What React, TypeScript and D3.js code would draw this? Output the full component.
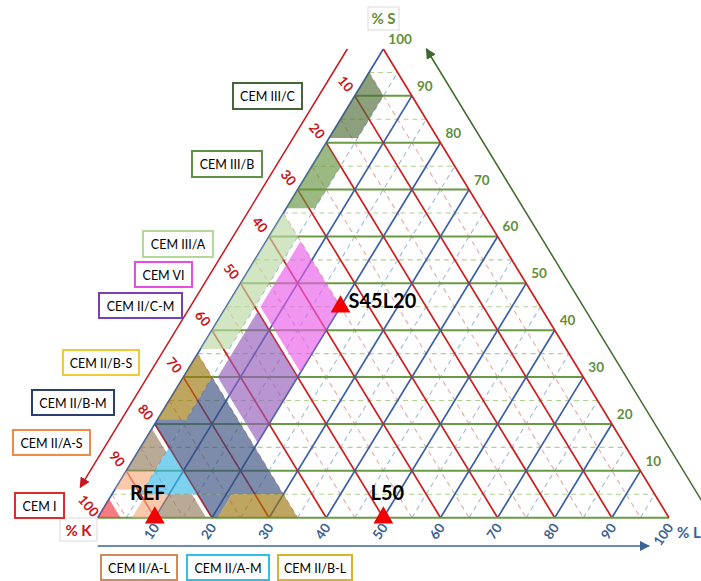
import React from 'react';
import * as d3 from 'd3';

// ternary: K = clinker (bottom-left), S = slag (top), L = limestone (bottom-right)
const majorTicks = [10, 20, 30, 40, 50, 60, 70, 80, 90];
const minorTicks = [5, 15, 25, 35, 45, 55, 65, 75, 85, 95];
const tickLabels = [10, 20, 30, 40, 50, 60, 70, 80, 90, 100];

// shaded zones, ranges in %
const zoneK = [[96, 100], [80.5, 94], [80.5, 94], [81, 94], [81, 94], [80, 94], [65, 80], [65, 80], [65, 80], [65, 80], [65, 80], [50, 64], [35, 49], [35, 64], [20, 34], [5, 19]];
const zoneS = [[0, 5], [6, 10], [0, 5], [10, 20], [0, 5], [5, 20], [5, 35], [0, 21], [0, 5], [21, 35], [0, 5], [0, 50], [0, 65], [36, 65], [66, 80], [81, 95]];
const zoneL = [[0, 5], [0, 5], [6, 10], [0, 5], [10, 20], [5, 20], [5, 35], [0, 5], [5, 21], [0, 5], [21, 35], [6, 20], [6, 20], [0, 5], [0, 5], [0, 5]];
const zoneFill = ['#f0373f', '#f7aa7c', '#f7aa7c', '#937c5d', '#937c5d', '#37bae8', '#374e7c', '#374e7c', '#374e7c', '#9b750a', '#9b750a', '#935dba', '#e85de8', '#bad9a3', '#65933f', '#4e6d37'];

const legendNames = ['CEM III/C', 'CEM III/B', 'CEM III/A', 'CEM VI', 'CEM II/C-M', 'CEM II/B-S', 'CEM II/B-M', 'CEM II/A-S', 'CEM I', 'CEM II/A-L', 'CEM II/A-M', 'CEM II/B-L'];
const legendColors = ['#46643a', '#5f9245', '#b4d89a', '#e64ce6', '#7a3fb0', '#f2c835', '#2a3e72', '#f08a46', '#dc2c2c', '#cf8c5a', '#2fc0ea', '#dbb22a'];
// box layout [x0, y0, x1, y1]
const legendBoxes = [[233, 83, 302, 109], [192, 151, 262, 177], [143, 231, 213, 257], [135, 262, 192, 287], [99, 293, 182, 318], [63, 350, 139, 375], [32, 390, 114, 415], [13, 430, 90, 455], [15, 493, 64, 518], [101, 555, 177, 580], [187, 555, 269, 580], [278, 555, 352, 580]];

const markerNames = ['REF', 'L50', 'S45L20'];
const markerS = [0, 0, 45];
const markerL = [10, 50, 20];

const GREEN = '#6a9a42';
const RED = '#d01c1c';
const BLUE = '#3a5ea6';
const FONT = 'Lato, "Open Sans", sans-serif';

const x = d3.scaleLinear().domain([0, 100]).range([97.7, 669]);
const y = d3.scaleLinear().domain([0, 100]).range([517.7, 49]);
const pt = (s: number, l: number): [number, number] => [x(l + s / 2), y(s)];

type P = [number, number];
// keep a*s + b*l <= c
function clip(poly: P[], a: number, b: number, c: number): P[] {
  const out: P[] = [];
  for (let i = 0; i < poly.length; i++) {
    const p = poly[i];
    const q = poly[(i + 1) % poly.length];
    const fp = a * p[0] + b * p[1] - c;
    const fq = a * q[0] + b * q[1] - c;
    if (fp <= 0) out.push(p);
    if ((fp < 0 && fq > 0) || (fp > 0 && fq < 0)) {
      const t = fp / (fp - fq);
      out.push([p[0] + t * (q[0] - p[0]), p[1] + t * (q[1] - p[1])]);
    }
  }
  return out;
}

function zonePath(k: number[], s: number[], l: number[]) {
  let poly: P[] = [[0, 0], [100, 0], [0, 100]];
  poly = clip(poly, -1, 0, -s[0]);
  poly = clip(poly, 1, 0, s[1]);
  poly = clip(poly, 0, -1, -l[0]);
  poly = clip(poly, 0, 1, l[1]);
  poly = clip(poly, 1, 1, 100 - k[0]);
  poly = clip(poly, -1, -1, k[1] - 100);
  if (poly.length < 3) return '';
  return d3.line()(poly.map((p) => pt(p[0], p[1]))) + 'Z';
}

const seg = (a: P, b: P) => `M${a[0]},${a[1]}L${b[0]},${b[1]}`;

export default function App() {
  const sLine = (v: number) => seg(pt(v, 0), pt(v, 100 - v));
  const kLine = (v: number) => seg(pt(100 - v, 0), pt(0, 100 - v));
  const lLine = (v: number) => seg(pt(0, v), pt(100 - v, v));
  const tri = d3.symbol().type(d3.symbolTriangle).size(170)();

  // outer axis lines, parallel to the edges
  const kAxisA = pt(100, 0), kAxisB = pt(6.5, 0);
  const sAxisA = pt(2, 100 - 2), sAxisB = pt(100, 0);

  return (
    <svg width={701} height={581} style={{ position: 'absolute', left: 0, top: 0, background: '#fff' }} fontFamily={FONT}>
      <defs>
        <marker id="arR" viewBox="0 0 10 10" refX="9" refY="5" markerWidth="7" markerHeight="7" orient="auto">
          <path d="M0,0L10,5L0,10Z" fill="#c8161d" />
        </marker>
        <marker id="arG" viewBox="0 0 10 10" refX="9" refY="5" markerWidth="7" markerHeight="7" orient="auto">
          <path d="M0,0L10,5L0,10Z" fill="#3f6a2e" />
        </marker>
        <marker id="arB" viewBox="0 0 10 10" refX="9" refY="5" markerWidth="7" markerHeight="7" orient="auto">
          <path d="M0,0L10,5L0,10Z" fill="#3b6496" />
        </marker>
      </defs>

      {/* minor dashed grid */}
      <g fill="none" strokeWidth={1.1} strokeDasharray="5,4">
        {minorTicks.map((v) => <path key={'ms' + v} d={sLine(v)} stroke="#aed18f" />)}
        {minorTicks.map((v) => <path key={'mk' + v} d={kLine(v)} stroke="#e6a9a9" />)}
        {minorTicks.map((v) => <path key={'ml' + v} d={lLine(v)} stroke="#a2b8de" />)}
      </g>
      {/* major grid */}
      <g fill="none">
        {majorTicks.map((v) => <path key={'s' + v} d={sLine(v)} stroke={GREEN} strokeWidth={2} />)}
        {majorTicks.map((v) => <path key={'k' + v} d={kLine(v)} stroke={RED} strokeWidth={1.7} />)}
        {majorTicks.map((v) => <path key={'l' + v} d={lLine(v)} stroke={BLUE} strokeWidth={1.7} />)}
        <path d={sLine(0)} stroke={GREEN} strokeWidth={2} />
        <path d={lLine(0)} stroke={BLUE} strokeWidth={1.7} />
        <path d={kLine(0)} stroke={RED} strokeWidth={1.7} />
      </g>

      {/* cement zones */}
      <g>
        {zoneK.map((k, i) => (
          <path key={'z' + i} d={zonePath(k, zoneS[i], zoneL[i])} fill={zoneFill[i]} fillOpacity={0.65} />
        ))}
      </g>

      {/* outer axes */}
      <path d={seg([kAxisA[0] - 36, kAxisA[1]], [kAxisB[0] - 36, kAxisB[1]])} stroke="#c8161d" strokeWidth={1.5} markerEnd="url(#arR)" />
      <path d={seg([sAxisA[0] + 43, sAxisA[1]], [sAxisB[0] + 43, sAxisB[1]])} stroke="#3f6a2e" strokeWidth={1.5} markerEnd="url(#arG)" />
      <path d={seg([x(0), 546], [x(96.5), 546])} stroke="#3b6496" strokeWidth={1.5} markerEnd="url(#arB)" />

      {/* tick labels */}
      <g fontWeight="bold" fontSize={13.5}>
        {tickLabels.map((v) => {
          const p = pt(100 - v, 0);
          return (
            <text key={'tk' + v} fill="#c8161d" textAnchor="middle" dominantBaseline="central"
              transform={`translate(${p[0] - 9},${p[1] - 12}) rotate(50)`}>{v}</text>
          );
        })}
        {tickLabels.map((v) => {
          const p = pt(v, 100 - v);
          return (
            <text key={'ts' + v} fill="#5f8f3a" x={p[0] + 5} y={p[1] - 10} dominantBaseline="central">{v}</text>
          );
        })}
        {tickLabels.map((v) => {
          const p = pt(0, v);
          return (
            <text key={'tl' + v} fill="#3d5f8f" textAnchor="end" dominantBaseline="central"
              transform={`translate(${p[0] + 1},${p[1] + 7}) rotate(-55)`}>{v}</text>
          );
        })}
      </g>

      {/* axis titles */}
      <rect x={368} y={7} width={31} height={23} fill="#fff" stroke="#d9d9d9" />
      <text x={383.5} y={24} textAnchor="middle" fontWeight="bold" fontSize={15} fill="#5f8f3a">% S</text>
      <rect x={60} y={518} width={37} height={23} fill="#fff" stroke="#d9d9d9" />
      <text x={78.5} y={536} textAnchor="middle" fontWeight="bold" fontSize={15} fill="#c8161d">% K</text>
      <text x={677} y={538} fontWeight="bold" fontSize={15} fill="#3d5f8f">% L</text>

      {/* legend boxes */}
      <g>
        {legendNames.map((n, i) => {
          const b = legendBoxes[i];
          return (
            <g key={n}>
              <rect x={b[0]} y={b[1]} width={b[2] - b[0]} height={b[3] - b[1]} fill="#fff" stroke={legendColors[i]} strokeWidth={2} />
              <text x={(b[0] + b[2]) / 2} y={(b[1] + b[3]) / 2 + 0.5} textAnchor="middle" dominantBaseline="central" fontSize={12.5} fill="#000">{n}</text>
            </g>
          );
        })}
      </g>

      {/* samples */}
      <g>
        {markerNames.map((n, i) => {
          const p = pt(markerS[i], markerL[i]);
          return <path key={'m' + n} d={tri || ''} transform={`translate(${p[0]},${p[1]})`} fill="#f00000" />;
        })}
      </g>
      <g fontWeight="bold" fontSize={20} fill="#000">
        {markerNames.map((n, i) => {
          const p = pt(markerS[i], markerL[i]);
          const dx = [-7, 4, 8][i];
          const dy = [-18, -18, 1][i];
          const anchor = i === 2 ? 'start' : 'middle';
          return <text key={'t' + n} x={p[0] + dx} y={p[1] + dy} textAnchor={anchor}>{n}</text>;
        })}
      </g>
    </svg>
  );
}
